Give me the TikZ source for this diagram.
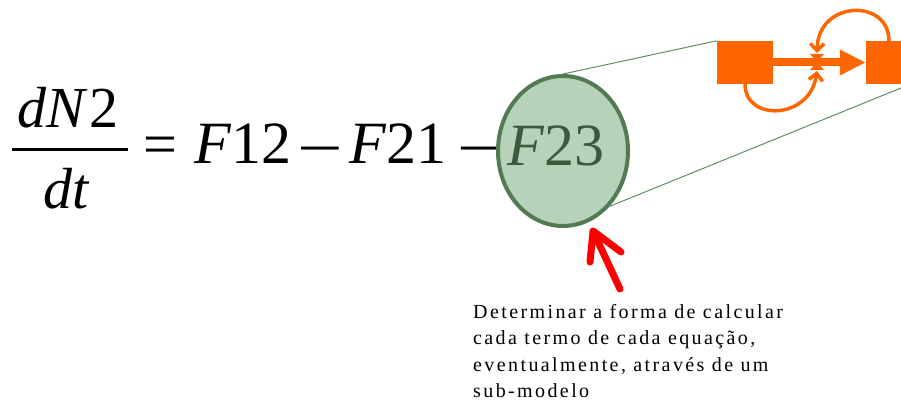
\documentclass[tikz,border=0pt]{standalone}
\usepackage{fontspec}
\setmainfont{Liberation Serif}
\usetikzlibrary{shapes.geometric,arrows.meta}
\definecolor{ellfill}{HTML}{B6D2B8}
\definecolor{elldraw}{HTML}{527A53}
\definecolor{elltext}{HTML}{3A5A3C}
\definecolor{thingreen}{HTML}{5E8F60}
\definecolor{orng}{HTML}{FF6600}
\begin{document}
\begin{tikzpicture}[x=1pt,y=-1pt,
  eqtext/.style={inner sep=0pt,font=\fontsize{60}{72}\selectfont},
  fractext/.style={inner sep=0pt,font=\fontsize{58}{68}\selectfont},
  obox/.style={fill=orng,draw=none,inner sep=0pt,minimum height=43pt},
  oline/.style={draw=orng,line width=3.5pt},
  otip/.style={-{Straight Barb[length=7pt 0 0,width=14pt 0 0]}},
  zoomline/.style={draw=thingreen,line width=1pt},
  redarrow/.style={draw=red,line width=7pt,line cap=round,line join=round}]
\useasboundingbox (0,0) rectangle (901,401);
% fraction
\node[fractext,anchor=base] (num) at (68,127) {\textit{dN}\kern2pt 2};
\coordinate (barl) at (12,149);
\coordinate (barr) at (128,149);
\draw[line width=3pt] (barl) -- (barr);
\node[fractext,anchor=base] (den) at (67,208) {\textit{dt}};
% equation
\node[eqtext,anchor=center] (eq) at (160,151) {=};
\node[eqtext,anchor=base west] (f12) at (194,163) {\textit{F}12};
\node[eqtext,anchor=base] (m1) at (320,168) {\scalebox{1.35}[1]{−}};
\node[eqtext,anchor=base west] (f21) at (349,163) {\textit{F}21};
\node[eqtext,anchor=base] (m2) at (479,168) {\scalebox{1.3}[1]{−}};
% ellipse
\node[ellipse,fill=ellfill,draw=elldraw,line width=4pt,minimum width=130pt,minimum height=150pt,inner sep=0pt] (ell) at (563,151) {};
\node[eqtext,anchor=base west,text=elltext] (f23) at (507,165) {\textit{F}23};
% orange sub-model
\node[obox,minimum width=56pt] (lbox) at (745,62.5) {};
\node[obox,minimum width=35pt] (rbox) at (883.5,62.5) {};
\draw[orng,line width=8pt,-{Triangle[length=26pt 0 0,width=24pt 0 0]}] (lbox.east) -- (rbox.west);
\coordinate (valve) at (817,62);
\fill[orng] (810,54) -- (824,54) -- (valve) -- cycle;
\fill[orng] (810,70) -- (824,70) -- (valve) -- cycle;
\coordinate (lowstart) at (745,84);
\coordinate (lowend) at (817,71);
\coordinate (upstart) at (889,41);
\coordinate (upend) at (817,53);
\draw[oline,otip] (lowstart) .. controls (745,122) and (810,120) .. (lowend);
\draw[oline,otip] (upstart) .. controls (889,-2) and (818,0) .. (upend);
% zoom lines
\coordinate (zend) at (901,88);
\draw[zoomline] (ell.north) -- (lbox.north west);
\draw[zoomline] (ell.-50) -- (zend);
% red arrow
\coordinate (rtip) at (593,231);
\coordinate (rtail) at (620,289);
\coordinate (rwl) at (590,262);
\coordinate (rwr) at (621,252);
\draw[redarrow] (rtail) -- (rtip) (rwl) -- (rtip) -- (rwr);
% note
\node[anchor=north west,inner sep=0pt,align=left,font=\fontsize{20}{26.5}\selectfont\addfontfeature{LetterSpace=12}] (note) at (473,304) {Determinar a forma de calcular\\cada termo de cada equação,\\eventualmente, através de um\\sub-modelo};
\end{tikzpicture}
\end{document}
